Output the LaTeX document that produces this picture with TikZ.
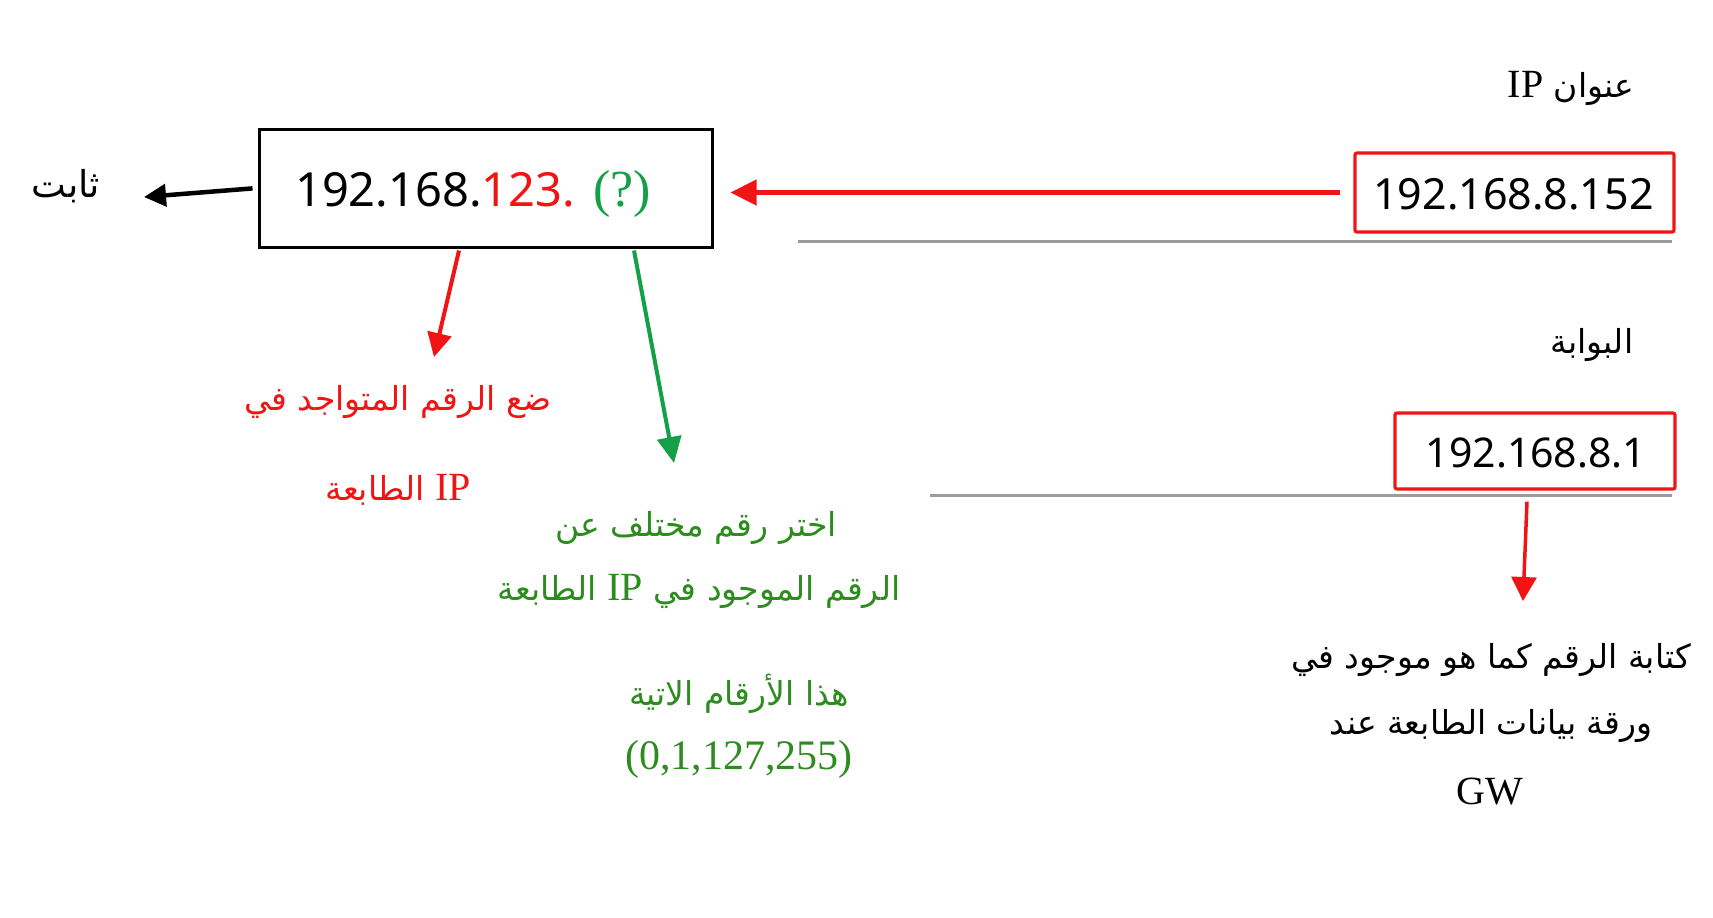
\documentclass[tikz,border=0pt]{standalone}
\usepackage{fontspec}
\TeXXeTstate=1
\setmainfont{Liberation Serif}
\newfontfamily\arabicfont[Script=Arabic]{DejaVu Sans}
\newfontfamily\numfont{Noto Sans}
\usetikzlibrary{arrows.meta}
\definecolor{ired}{RGB}{240,20,20}
\definecolor{igreen}{RGB}{20,160,70}
\definecolor{tgreen}{RGB}{45,140,30}
\definecolor{lgray}{RGB}{155,155,155}
\newcommand{\latinIP}{\beginL{\rmfamily\fontsize{40}{46}\selectfont IP}\endL}
\tikzset{
  mainbox/.style={draw=black, line width=3pt, minimum width=453pt, minimum height=118pt, inner sep=0pt},
  redbox/.style={draw=ired, line width=3.2pt, rounded corners=2pt, inner sep=0pt},
  ipnum/.style={font=\numfont\fontsize{43}{50}\selectfont, inner sep=0pt},
  arlabel/.style={font=\arabicfont\fontsize{33}{38}\selectfont, inner sep=0pt},
  redarrow/.style={draw=ired, line width=4.5pt, -{Triangle[length=26pt,width=25pt]}},
  blackarrow/.style={draw=black, line width=4.5pt, -{Triangle[length=22pt,width=22pt]}},
  greenarrow/.style={draw=igreen, line width=4pt, -{Triangle[length=26pt,width=24pt]}},
  grayline/.style={draw=lgray, line width=3pt}
}
\begin{document}
\begin{tikzpicture}[x=1pt,y=-1pt]
\useasboundingbox[fill=white] (0,0) rectangle (1713,918);

% main box
\node[mainbox] (main) at (485.5,188) {};
\node[inner sep=0pt, anchor=base west] (mainip) at (295,206)
  {\numfont\fontsize{47}{54}\selectfont 192.168.{\color{ired}123.}\hspace{2pt} {\color{igreen}\rmfamily\fontsize{52}{58}\selectfont(?)}};

% left label
\node[arlabel, font=\arabicfont\fontsize{37}{42}\selectfont] (thabit) at (66,186) {\beginR ثابت\endR};
\coordinate (thabittip) at (144,197);
\draw[blackarrow, shorten <=5pt] (main.west) -- (thabittip);

% right IP box
\node[arlabel] (iplabel) at (1571,88) {\beginR عنوان \latinIP\endR};
\node[redbox, minimum width=319pt, minimum height=79pt] (ipbox) at (1514.5,192.5) {};
\node[ipnum] (ipnum) at (1513.5,194) {192.168.8.152};
\draw[grayline] (798,241) -- (1672,241);
\draw[redarrow, shorten <=13pt, shorten >=17pt] (ipbox.west) -- (ipbox.west -| main.east);

% gateway
\node[arlabel] (gwlabel) at (1592,345) {\beginR البوابة\endR};
\node[redbox, minimum width=280pt, minimum height=76pt] (gwbox) at (1535,451) {};
\node[ipnum, font=\numfont\fontsize{41}{48}\selectfont] (gwnum) at (1536,453) {192.168.8.1};
\draw[grayline] (930,495) -- (1672,495);
\coordinate (gwtip) at (1523,601);
\draw[redarrow, line width=3.5pt, -{Triangle[length=24pt,width=25pt]}] ([xshift=-8pt,yshift=-11pt]gwbox.south) -- (gwtip);

\node[arlabel] (gwt1) at (1491,660) {\beginR كتابة الرقم كما هو موجود في\endR};
\node[arlabel] (gwt2) at (1491,726) {\beginR ورقة بيانات الطابعة عند\endR};
\node[inner sep=0pt, font=\fontsize{40}{46}\selectfont] (gwt3) at (1490,792) {GW};

% red hint
\coordinate (redtip) at (434,357);
\draw[redarrow, line width=4pt, -{Triangle[length=24pt,width=24pt]}] ([xshift=-26.5pt,yshift=-2pt]main.south) -- (redtip);
\node[arlabel, text=ired] (rt1) at (398,402) {\beginR ضع الرقم المتواجد في\endR};
\node[arlabel, text=ired] (rt2) at (398,490) {\beginR\latinIP{} الطابعة\endR};

% green hint
\coordinate (greentip) at (674,463);
\draw[greenarrow] ([xshift=148.5pt,yshift=-2pt]main.south) -- (greentip);
\node[arlabel, text=tgreen] (gt1) at (696,528) {\beginR اختر رقم مختلف عن\endR};
\node[arlabel, text=tgreen] (gt2) at (699,591) {\beginR الرقم الموجود في \latinIP{} الطابعة\endR};
\node[arlabel, text=tgreen] (gt3) at (739,694) {\beginR هذا الأرقام الاتية\endR};
\node[inner sep=0pt, text=tgreen, font=\fontsize{42}{48}\selectfont] (gt4) at (739,759) {(0,1,127,255)};
\end{tikzpicture}
\end{document}
